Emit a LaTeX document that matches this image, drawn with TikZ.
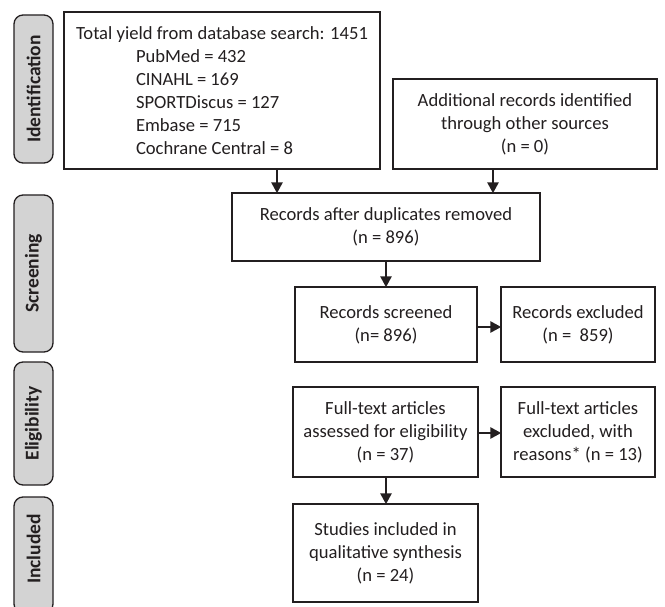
\documentclass[tikz,border=0pt]{standalone}
\usepackage{fontspec}
\setmainfont{Carlito}
\usetikzlibrary{arrows.meta}
\definecolor{ink}{HTML}{231F20}
\definecolor{labelgray}{HTML}{D3D3D3}
\tikzset{
  box/.style={draw=ink, line width=1.4pt, fill=white, inner sep=0pt, align=center,
    text=ink, font=\fontsize{18.6}{23}\selectfont},
  phase/.style={draw=ink, line width=1.3pt, fill=labelgray, rounded corners=9pt, inner sep=0pt},
  phasetext/.style={rotate=90, text=ink, font=\bfseries\fontsize{19.5}{23}\selectfont},
  flow/.style={draw=ink, line width=2.6pt, -{Triangle[length=11pt,width=11pt]}, shorten >=-1pt}
}
\begin{document}
\begin{tikzpicture}[x=1pt,y=-1pt]
\useasboundingbox (0,0) rectangle (665,607);
% phase labels
\node[phase, minimum width=39pt, minimum height=148pt] (pid) at (33.5,89) {};
\node[phasetext] (tid) at (pid.center) {Identification};
\node[phase, minimum width=39pt, minimum height=157pt] (psc) at (33.5,273.5) {};
\node[phasetext] (tsc) at (psc.center) {Screening};
\node[phase, minimum width=39pt, minimum height=123pt] (pel) at (33.5,423.5) {};
\node[phasetext] (tel) at (pel.center) {Eligibility};
\node[phase, minimum width=39pt, minimum height=116pt] (pin) at (33.5,555) {};
\node[phasetext] (tin) at (33.5,549) {Included};
% boxes
\node[box, minimum width=316pt, minimum height=157pt, align=left] (db) at (222,90.5)
  {Total yield from database search: 1451\\
   \hspace*{60pt}PubMed = 432\\
   \hspace*{60pt}CINAHL = 169\\
   \hspace*{60pt}SPORTDiscus = 127\\
   \hspace*{60pt}Embase = 715\\
   \hspace*{60pt}Cochrane Central = 8};
\node[box, minimum width=264pt, minimum height=90pt] (add) at (525,124)
  {Additional records identified\\through other sources\\(n = 0)};
\node[box, minimum width=308pt, minimum height=68pt] (dup) at (386,227)
  {Records after duplicates removed\\(n = 896)};
\node[box, minimum width=182pt, minimum height=75pt] (scr) at (386,324.5)
  {Records screened\\(n= 896)};
\node[box, minimum width=154pt, minimum height=75pt] (exc) at (578,324.5)
  {Records excluded\\(n = \ 859)};
\node[box, minimum width=185pt, minimum height=90pt] (ft) at (385.5,432)
  {Full-text articles\\assessed for eligibility\\(n = 37)};
\node[box, minimum width=154pt, minimum height=90pt] (ftx) at (578,432)
  {Full-text articles\\excluded, with\\reasons* (n = 13)};
\node[box, minimum width=185pt, minimum height=98pt] (inc) at (385.5,553)
  {Studies included in\\qualitative synthesis\\(n = 24)};
% connectors
\draw[flow] (db.south -| 277,0) -- (dup.north -| 277,0);
\draw[flow] (add.south -| 493,0) -- (dup.north -| 493,0);
\draw[flow] (dup.south -| scr.north) -- (scr.north);
\draw[flow] (scr.east |- 0,327) -- (exc.west |- 0,327);
\draw[flow] (ft.east |- 0,433) -- (ftx.west |- 0,433);
\draw[flow] (ft.south -| 386,0) -- (inc.north -| 386,0);
\end{tikzpicture}
\end{document}
